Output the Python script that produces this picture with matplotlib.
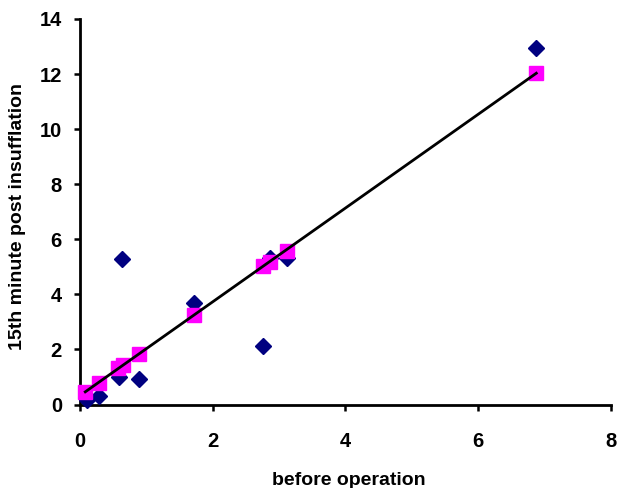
import matplotlib
matplotlib.use("Agg")
import matplotlib.pyplot as plt

# measured values (before operation vs 15th minute post insufflation)
before_op = [0.11, 0.29, 0.59, 0.64, 0.89, 1.72, 2.76, 2.86, 3.12, 6.88]
post_15min = [0.16, 0.31, 1.01, 5.27, 0.92, 3.70, 2.12, 5.31, 5.31, 12.93]

# fitted (predicted) values, same x
fit_x = [0.08, 0.29, 0.58, 0.65, 0.89, 1.72, 2.76, 2.86, 3.12, 6.88]
fit_y = [0.46, 0.79, 1.31, 1.43, 1.83, 3.25, 5.03, 5.16, 5.58, 12.03]

x_ticks = [0, 2, 4, 6, 8]
y_ticks = [0, 2, 4, 6, 8, 10, 12, 14]

plt.rcParams['font.family'] = ['Liberation Sans', 'DejaVu Sans']
plt.rcParams['font.weight'] = 'bold'

fig = plt.figure(figsize=(6.18, 4.88), dpi=100)
ax = fig.add_axes([0.1294, 0.1711, 0.8586, 0.79])

ax.plot(before_op, post_15min, linestyle='none', marker='D', markersize=8.2,
        color='#000080', zorder=3, clip_on=False)
ax.plot(fit_x, fit_y, linestyle='none', marker='s', markersize=10.5,
        color='#FF00FF', zorder=4, clip_on=False)
ax.plot([fit_x[0], fit_x[-1]], [fit_y[0], fit_y[-1]], color='black',
        linewidth=2.0, zorder=5)

ax.set_xlim(0, 8)
ax.set_ylim(0, 14)
ax.set_xticks(x_ticks)
ax.set_yticks(y_ticks)

for side in ['top', 'right']:
    ax.spines[side].set_visible(False)
for side in ['left', 'bottom']:
    ax.spines[side].set_linewidth(2.0)

ax.tick_params(axis='both', direction='out', length=4.5, width=1.8,
               labelsize=14.5)
ax.tick_params(axis='x', pad=15)
ax.tick_params(axis='y', pad=8.5)
for lbl in ax.get_xticklabels() + ax.get_yticklabels():
    lbl.set_fontweight('bold')

ax.set_xlabel('before operation', fontsize=14, fontweight='bold')
ax.set_ylabel('15th minute post insufflation', fontsize=14, fontweight='bold')
ax.xaxis.label.set_va('center')
ax.yaxis.label.set_va('center')
ax.xaxis.set_label_coords(0.507, -0.196)
ax.yaxis.set_label_coords(-0.117, 0.487)

fig.savefig('out.png', dpi=100)
